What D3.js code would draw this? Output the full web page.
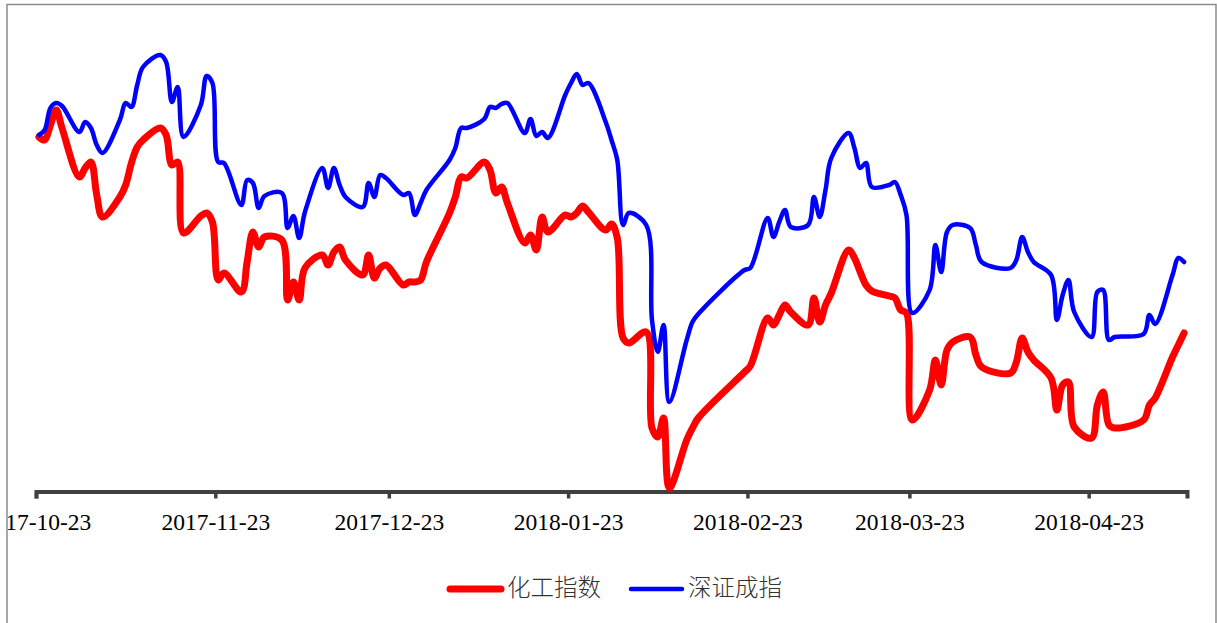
<!DOCTYPE html>
<html>
<head>
<meta charset="utf-8">
<script src="https://cdn.jsdelivr.net/npm/d3@7"></script>
<style>
  body { margin: 0; background: #fff; }
</style>
</head>
<body>
<div id="chart"></div>
<script>
// trading days, one row per month
const dates = [
  "2017-10-23","2017-10-24","2017-10-25","2017-10-26","2017-10-27","2017-10-30","2017-10-31",
  "2017-11-01","2017-11-02","2017-11-03","2017-11-06","2017-11-07","2017-11-08","2017-11-09","2017-11-10","2017-11-13","2017-11-14","2017-11-15","2017-11-16","2017-11-17","2017-11-20","2017-11-21","2017-11-22","2017-11-23","2017-11-24","2017-11-27","2017-11-28","2017-11-29","2017-11-30",
  "2017-12-01","2017-12-04","2017-12-05","2017-12-06","2017-12-07","2017-12-08","2017-12-11","2017-12-12","2017-12-13","2017-12-14","2017-12-15","2017-12-18","2017-12-19","2017-12-20","2017-12-21","2017-12-22","2017-12-25","2017-12-26","2017-12-27","2017-12-28","2017-12-29",
  "2018-01-02","2018-01-03","2018-01-04","2018-01-05","2018-01-08","2018-01-09","2018-01-10","2018-01-11","2018-01-12","2018-01-15","2018-01-16","2018-01-17","2018-01-18","2018-01-19","2018-01-22","2018-01-23","2018-01-24","2018-01-25","2018-01-26","2018-01-29","2018-01-30","2018-01-31",
  "2018-02-01","2018-02-02","2018-02-05","2018-02-06","2018-02-07","2018-02-08","2018-02-09","2018-02-12","2018-02-13","2018-02-14","2018-02-22","2018-02-23","2018-02-26","2018-02-27","2018-02-28",
  "2018-03-01","2018-03-02","2018-03-05","2018-03-06","2018-03-07","2018-03-08","2018-03-09","2018-03-12","2018-03-13","2018-03-14","2018-03-15","2018-03-16","2018-03-19","2018-03-20","2018-03-21","2018-03-22","2018-03-23","2018-03-26","2018-03-27","2018-03-28","2018-03-29","2018-03-30",
  "2018-04-02","2018-04-03","2018-04-04","2018-04-09","2018-04-10","2018-04-11","2018-04-12","2018-04-13","2018-04-16","2018-04-17","2018-04-18","2018-04-19","2018-04-20","2018-04-23","2018-04-24","2018-04-25","2018-04-26","2018-04-27",
  "2018-05-02","2018-05-03","2018-05-04","2018-05-07","2018-05-08","2018-05-09"
];

// 化工指数 (normalised)
const chemical = [
  99.9, 99.75, 100.5, 101.25, 100.35, 97.9, 98.35,
  98.65, 97.0, 95.9, 96.9, 97.5, 98.6, 99.4, 99.75, 100.35, 100.0, 98.5, 98.65, 95.1, 95.95, 96.1, 95.65, 92.75, 93.1, 92.15, 93.65, 95.15, 94.4,
  94.9, 94.75, 91.75, 92.65, 91.75, 93.35, 94.0, 93.5, 94.15, 94.4, 93.75, 93.0, 94.0, 92.85, 93.35, 93.5, 92.5, 92.65, 92.65, 92.75, 93.65,
  96.1, 96.9, 97.9, 97.85, 98.65, 98.25, 97.1, 97.4, 96.6, 94.6, 95.0, 94.25, 95.9, 95.15, 96.0, 95.9, 96.1, 96.45, 96.15, 95.25, 95.55, 94.85,
  89.85, 89.6, 90.15, 85.35, 84.9, 85.85, 82.35, 84.75, 85.35, 85.85, 88.15, 88.45, 90.85, 90.5, 91.0,
  91.5, 91.15, 90.5, 91.85, 90.65, 91.5, 92.1, 94.25, 93.85, 93.15, 92.5, 92.2, 91.95, 91.85, 91.25, 91.1, 85.75, 87.25, 88.75, 87.5, 89.25, 89.65,
  89.9, 89.0, 88.4, 88.1, 88.65, 89.85, 89.15, 88.75, 87.85, 86.25, 87.5, 87.65, 85.4, 84.85, 86.5, 87.15, 85.5, 85.35,
  85.75, 86.5, 86.85, 88.9, 89.5, 90.1
];

// 深证成指 (normalised)
const shenzhen = [
  100.0, 100.25, 101.35, 101.6, 101.45, 100.15, 100.65,
  100.35, 99.5, 99.1, 100.75, 101.6, 101.4, 102.5, 103.4, 104.0, 103.65, 101.65, 102.4, 99.9, 101.5, 102.95, 102.6, 98.65, 98.6, 96.5, 97.75, 97.6, 96.35,
  96.95, 97.1, 95.35, 95.95, 94.85, 96.15, 98.35, 97.35, 98.35, 97.5, 96.9, 96.4, 97.6, 96.9, 98.0, 97.85, 97.0, 97.1, 96.0, 96.6, 97.25,
  98.75, 99.35, 100.35, 100.35, 100.8, 101.4, 101.35, 101.55, 101.6, 100.1, 100.8, 99.95, 100.15, 99.85, 102.0, 102.6, 103.05, 102.5, 102.6, 100.65, 99.75, 98.75,
  95.5, 96.1, 95.5, 90.75, 89.15, 90.5, 86.65, 89.75, 90.65, 91.05, 93.25, 93.35, 95.85, 94.9, 95.65,
  96.25, 95.4, 95.5, 96.9, 95.9, 97.25, 98.85, 100.1, 99.35, 98.35, 98.6, 97.4, 97.5, 97.65, 97.0, 96.0, 91.1, 92.25, 94.5, 93.15, 95.15, 95.5,
  95.35, 94.5, 93.65, 93.35, 93.75, 94.9, 94.15, 93.65, 93.0, 90.75, 92.0, 92.75, 91.15, 89.9, 92.15, 92.25, 89.75, 89.9,
  90.05, 91.0, 90.55, 93.0, 93.85, 93.65
];

const tickDates = ["2017-10-23","2017-11-23","2017-12-23","2018-01-23","2018-02-23","2018-03-23","2018-04-23"];
const seriesNames = ["化工指数", "深证成指"];
const seriesColors = ["#ff0000", "#0000ff"];
const seriesWidths = [7, 4.5];

const W = 1217, H = 623;
const parse = d3.timeParse("%Y-%m-%d");

const svg = d3.select("#chart")
    .append("svg")
    .attr("width", W)
    .attr("height", H);

// outer frame
svg.append("rect")
    .attr("x", 7).attr("y", 4.5)
    .attr("width", 1209).attr("height", 640)
    .attr("fill", "none")
    .attr("stroke", "#8c8c8c")
    .attr("stroke-width", 1.5);

// the frame crops the first tick label, as in the source
svg.append("clipPath").attr("id", "frame")
  .append("rect").attr("x", 8).attr("y", 5).attr("width", 1207).attr("height", 640);

const g = svg.append("g").attr("clip-path", "url(#frame)");

// date axis, points sit in the middle of their day
const x = d3.scaleTime()
    .domain([parse("2017-10-23"), parse("2018-05-10")])
    .range([36, 1187]);

const y = d3.scaleLinear()
    .domain([82.2, 106])
    .range([491, 15]);

const axisY = 491.5;
const xAxis = g.append("g")
    .attr("transform", `translate(0, ${axisY})`)
    .call(d3.axisBottom(x)
        .tickValues(tickDates.map(parse))
        .tickFormat(d3.timeFormat("%Y-%m-%d"))
        .tickSizeOuter(0)
        .tickSize(7)
        .tickPadding(15));

xAxis.select(".domain")
    .attr("stroke", "#404040")
    .attr("stroke-width", 4);
xAxis.selectAll(".tick line")
    .attr("stroke", "#404040")
    .attr("stroke-width", 3.5);
xAxis.selectAll(".tick text")
    .attr("fill", "#000")
    .style("font-family", "'Liberation Serif', 'Times New Roman', serif")
    .style("font-size", "23.5px");

const rows = dates.map((d, i) => ({
    date: d3.timeHour.offset(parse(d), 12),
    values: [chemical[i], shenzhen[i]]
}));

seriesNames.forEach((name, k) => {
    const line = d3.line()
        .x(d => x(d.date))
        .y(d => y(d.values[k]))
        .curve(d3.curveCatmullRom.alpha(0.5));

    g.append("path")
        .datum(rows)
        .attr("fill", "none")
        .attr("stroke", seriesColors[k])
        .attr("stroke-width", seriesWidths[k])
        .attr("stroke-linejoin", "round")
        .attr("stroke-linecap", "round")
        .attr("d", line);
});

// legend
const legendX = [450, 631];
const legend = svg.append("g");
seriesNames.forEach((name, k) => {
    legend.append("line")
        .attr("x1", legendX[k]).attr("x2", legendX[k] + 51)
        .attr("y1", 589).attr("y2", 589)
        .attr("stroke", seriesColors[k])
        .attr("stroke-width", seriesWidths[k])
        .attr("stroke-linecap", "round");
    legend.append("text")
        .attr("x", legendX[k] + 57)
        .attr("y", 596)
        .attr("fill", "#333")
        .style("font-family", "'Noto Sans CJK SC', sans-serif")
        .style("font-weight", 300)
        .style("font-size", "23.5px")
        .text(name);
});
</script>
</body>
</html>
